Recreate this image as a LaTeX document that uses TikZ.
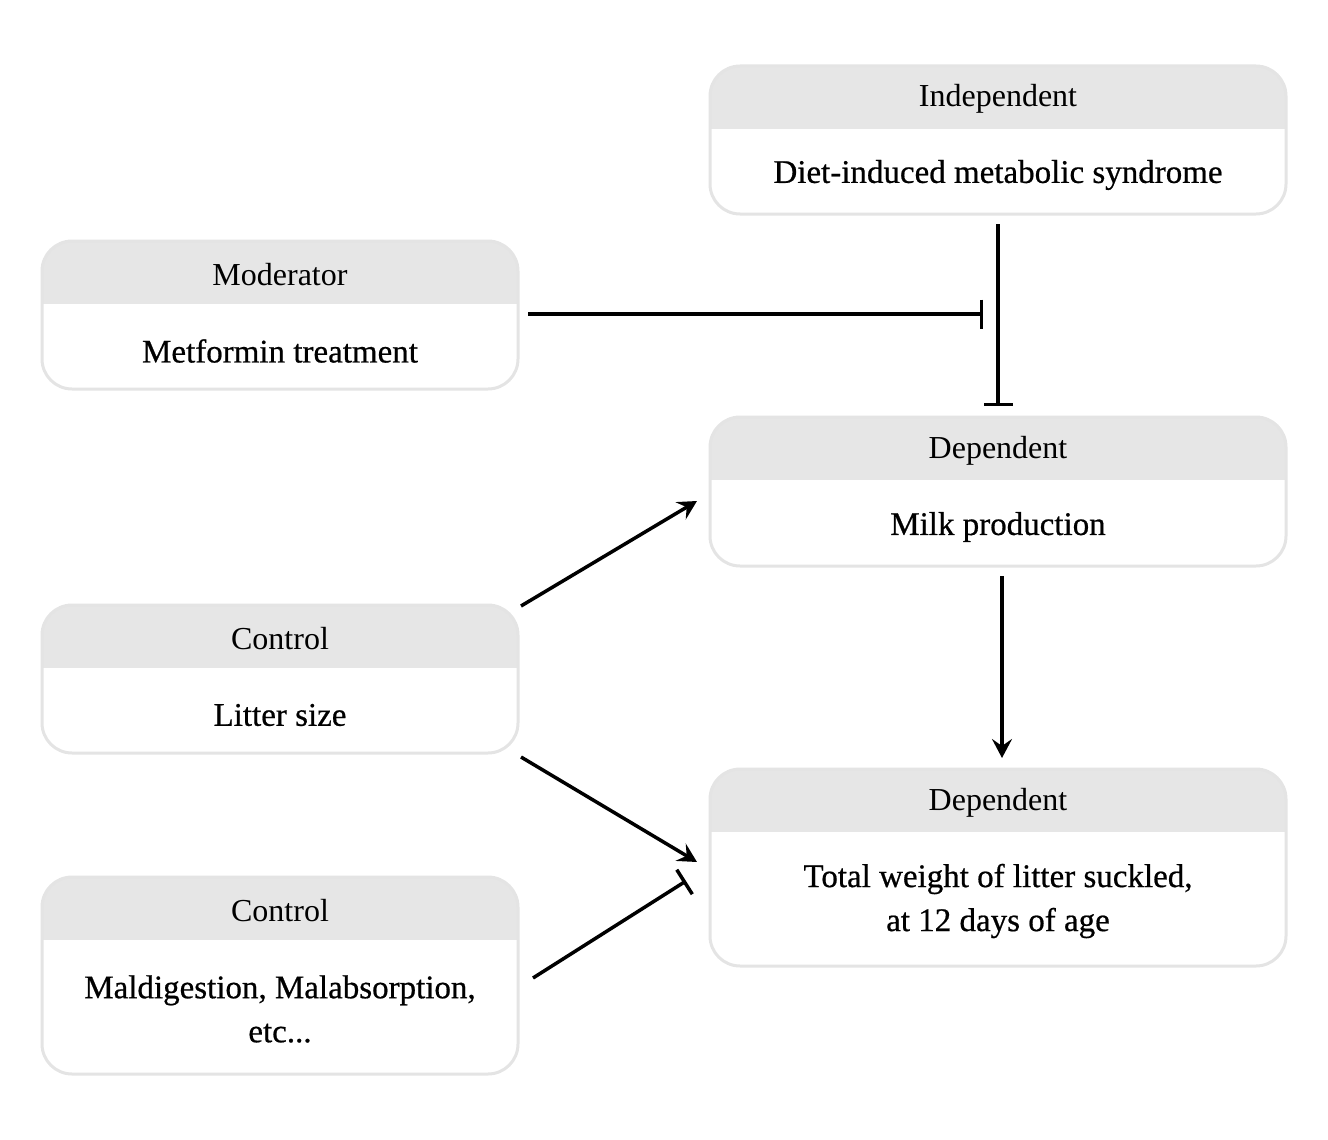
\documentclass[tikz,border=0pt]{standalone}
\usepackage{fontspec}
\setmainfont{Liberation Serif}
\newfontfamily\bodyfont[FakeBold=0.6]{Liberation Serif}
\usetikzlibrary{arrows.meta,calc}
\begin{document}
\begin{tikzpicture}[x=1pt,y=-1pt,
  box/.style={draw=boxline, line width=3pt, rounded corners=30pt, fill=white,
    inner sep=0pt, outer sep=0pt,
    path picture={\fill[hdrfill, sharp corners] (path picture bounding box.north west) rectangle ([yshift=-62.5pt]path picture bounding box.north east);}},
  wide/.style={box, minimum width=576pt},
  narrow/.style={box, minimum width=476pt},
  hdr/.style={font=\fontsize{32}{38}\selectfont, inner sep=0pt},
  body/.style={font=\bodyfont\fontsize{33}{44}\selectfont, align=center, inner sep=0pt},
  conn/.style={line width=3.5pt, black},
  arr/.style={conn, -{Stealth[length=19pt,width=20pt,inset=7pt]}},
  inh/.style={conn, -{Bar[width=29pt]}},
]
\definecolor{boxline}{HTML}{E4E4E4}
\definecolor{hdrfill}{HTML}{E6E6E6}
\useasboundingbox (0,0) rectangle (1328,1140);

\node[wide, minimum height=148pt] (ind) at (998,140) {};
\node[hdr] (indh) at (998,99) {Independent};
\node[body] (indb) at (998,175) {Diet-induced metabolic syndrome};

\node[narrow, minimum height=148pt] (mod) at (280,315) {};
\node[hdr] (modh) at (280,275) {Moderator};
\node[body] (modb) at (280,351) {Metformin treatment};

\node[wide, minimum height=149pt] (dep1) at (998,491.5) {};
\node[hdr] (dep1h) at (998,451) {Dependent};
\node[body] (dep1b) at (998,527) {Milk production};

\node[narrow, minimum height=148pt] (ctl1) at (280,679) {};
\node[hdr] (ctl1h) at (280,639) {Control};
\node[body] (ctl1b) at (280,715) {Litter size};

\node[wide, minimum height=197pt] (dep2) at (998,867.5) {};
\node[hdr] (dep2h) at (998,803) {Dependent};
\node[body] (dep2b) at (998,901) {Total weight of litter suckled,\\ at 12 days of age};

\node[narrow, minimum height=197pt] (ctl2) at (280,975.5) {};
\node[hdr] (ctl2h) at (280,911) {Control};
\node[body] (ctl2b) at (280,1009) {Maldigestion, Malabsorption,\\ etc...};

% connectors
\coordinate (j) at (983,314);
\draw[inh] ($(mod.east)+(10,-1)$) -- (j);
\draw[inh] ($(ind.south)+(0,10)$) -- ($(dep1.north)+(0,-11)$);
\draw[arr] ($(dep1.south)+(4,10)$) -- ($(dep2.north)+(4,-11)$);
\draw[arr] (521,606) -- (697,501);
\draw[arr] (521,757) -- (697,862);
\draw[inh] (533,978) -- (686,881);
\end{tikzpicture}
\end{document}
